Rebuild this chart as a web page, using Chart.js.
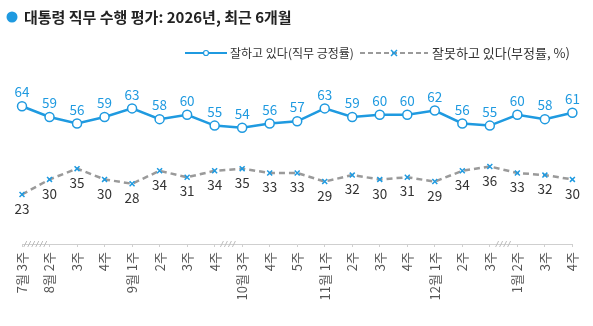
<!DOCTYPE html>
<html>
<head>
<meta charset="utf-8">
<script src="https://cdn.jsdelivr.net/npm/chart.js@4.4.1/dist/chart.umd.min.js"></script>
<style>
  html, body { margin: 0; padding: 0; background: #fff; }
  #wrap { width: 593px; height: 326px; position: relative; }
</style>
</head>
<body>
<div id="wrap"><canvas id="chart"></canvas></div>
<script>
// weekly labels (month shown only where it changes)
const weeks = ["7월 3주", "8월 2주", "3주", "4주", "9월 1주", "2주", "3주", "4주",
    "10월 3주", "4주", "5주", "11월 1주", "2주", "3주", "4주", "12월 1주", "2주", "3주",
    "1월 2주", "3주", "4주"];
const approve = [64, 59, 56, 59, 63, 58, 60, 55, 54, 56, 57, 63, 59, 60, 60, 62, 56, 55, 60, 58, 61];
const disapprove = [23, 30, 35, 30, 28, 34, 31, 34, 35, 33, 33, 29, 32, 30, 31, 29, 34, 36, 33, 32, 30];
// gaps in the survey series: break after index, number of slashes
const breakAfter = [0, 7, 17];
const breakSlashes = [6, 4, 4];

const titleText = "대통령 직무 수행 평가: 2026년, 최근 6개월";
const legendA = "잘하고 있다(직무 긍정률)";
const legendB = "잘못하고 있다(부정률, %)";

const BLUE = "#1f9ae0";
const GRAY = "#9a9a9a";
const FONT = "'Noto Sans CJK KR', 'Noto Sans', sans-serif";

// draw values next to points
const valueLabels = {
    id: 'valueLabels',
    afterDatasetsDraw(chart) {
        const ctx = chart.ctx;
        ctx.save();
        ctx.font = "13.5px " + FONT;
        ctx.textAlign = 'center';
        ctx.textBaseline = 'middle';
        chart.data.datasets.forEach((ds, di) => {
            const meta = chart.getDatasetMeta(di);
            meta.data.forEach((pt, i) => {
                if (di === 0) {
                    ctx.fillStyle = BLUE;
                    ctx.fillText(ds.data[i], pt.x, pt.y - 14);
                } else {
                    ctx.fillStyle = "#333";
                    ctx.fillText(ds.data[i], pt.x, pt.y + 14);
                }
            });
        });
        ctx.restore();
    }
};

// title, legend and axis break marks
const decor = {
    id: 'decor',
    afterDraw(chart) {
        const ctx = chart.ctx;
        ctx.save();
        // title
        ctx.fillStyle = BLUE;
        ctx.beginPath();
        ctx.arc(12, 17, 5.5, 0, Math.PI * 2);
        ctx.fill();
        ctx.fillStyle = "#222";
        ctx.font = "bold 15px " + FONT;
        ctx.textBaseline = 'middle';
        ctx.fillText(titleText, 24, 17);

        // legend
        const ly = 53;
        ctx.font = "12px " + FONT;
        ctx.fillStyle = "#333";
        ctx.strokeStyle = BLUE;
        ctx.lineWidth = 2;
        ctx.beginPath();
        ctx.moveTo(185, ly); ctx.lineTo(227, ly);
        ctx.stroke();
        ctx.fillStyle = "#fff";
        ctx.lineWidth = 1.2;
        ctx.beginPath();
        ctx.arc(206, ly, 2.5, 0, Math.PI * 2);
        ctx.fill(); ctx.stroke();
        ctx.fillStyle = "#333";
        ctx.fillText(legendA, 230, ly);

        ctx.strokeStyle = GRAY;
        ctx.lineWidth = 2;
        ctx.setLineDash([5, 3]);
        ctx.beginPath();
        ctx.moveTo(360, ly); ctx.lineTo(428, ly);
        ctx.stroke();
        ctx.setLineDash([]);
        ctx.strokeStyle = BLUE;
        ctx.lineWidth = 1.5;
        ctx.beginPath();
        ctx.moveTo(391, ly - 3); ctx.lineTo(397, ly + 3);
        ctx.moveTo(397, ly - 3); ctx.lineTo(391, ly + 3);
        ctx.stroke();
        ctx.font = "13px " + FONT;
        ctx.fillText(legendB, 432, ly);

        // break marks on the x axis
        const xs = chart.scales.x;
        const y0 = xs.top;
        ctx.strokeStyle = "#bdbdbd";
        ctx.lineWidth = 1;
        breakAfter.forEach((b, k) => {
            const cx = (xs.getPixelForValue(b) + xs.getPixelForValue(b + 1)) / 2;
            const n = breakSlashes[k];
            const w = n * 4;
            for (let j = 0; j < n; j++) {
                const x = cx - w / 2 + j * 4;
                ctx.beginPath();
                ctx.moveTo(x, y0 + 3);
                ctx.lineTo(x + 3, y0 - 3);
                ctx.stroke();
            }
        });
        ctx.restore();
    }
};

new Chart(document.getElementById('chart'), {
    type: 'line',
    data: {
        labels: weeks,
        datasets: [{
            label: legendA,
            data: approve,
            borderColor: BLUE,
            borderWidth: 2.5,
            pointBackgroundColor: '#fff',
            pointBorderColor: BLUE,
            pointBorderWidth: 1.5,
            pointRadius: 4.5,
            tension: 0
        }, {
            label: legendB,
            data: disapprove,
            borderColor: GRAY,
            borderWidth: 2.5,
            borderDash: [6, 4],
            pointStyle: 'cross',
            rotation: 45,
            pointBorderColor: BLUE,
            pointBorderWidth: 1.5,
            pointRadius: 3.5,
            tension: 0
        }]
    },
    options: {
        responsive: true,
        maintainAspectRatio: false,
        animation: false,
        layout: { padding: { left: 22, right: 20, top: 89, bottom: 0 } },
        plugins: {
            legend: { display: false },
            title: { display: false },
            tooltip: { enabled: false }
        },
        scales: {
            y: { display: false, min: 0, max: 72 },
            x: {
                offset: false,
                afterFit(scale) { scale.height = 82; },
                border: { display: true, color: '#cfcfcf', width: 1 },
                grid: { display: true, drawOnChartArea: false, drawTicks: true, tickLength: 3, color: '#cfcfcf' },
                ticks: {
                    autoSkip: false,
                    minRotation: 90,
                    maxRotation: 90,
                    padding: 5,
                    color: '#555',
                    font: { size: 13, family: FONT }
                }
            }
        }
    },
    plugins: [valueLabels, decor]
});
</script>
</body>
</html>
